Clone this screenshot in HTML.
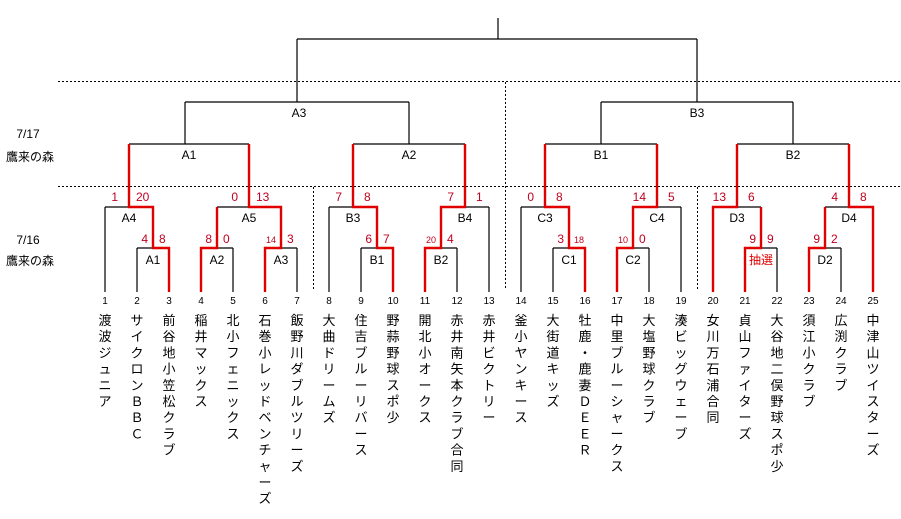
<!DOCTYPE html>
<html><head><meta charset="utf-8"><style>
html,body{margin:0;padding:0;background:#fff;}
svg text{font-family:"Liberation Sans","Noto Sans CJK JP",sans-serif;}
</style></head><body>
<svg width="901" height="514" viewBox="0 0 901 514" xmlns="http://www.w3.org/2000/svg">
<g stroke="#000" stroke-width="1" stroke-dasharray="2,2" fill="none">
<line x1="58" y1="81.5" x2="901" y2="81.5"/>
<line x1="58" y1="186.5" x2="901" y2="186.5"/>
<line x1="505.5" y1="82" x2="505.5" y2="290"/>
<line x1="313.5" y1="187" x2="313.5" y2="290"/>
<line x1="697.5" y1="187" x2="697.5" y2="290"/>
</g>
<g stroke="#000" stroke-width="1.2" fill="none">
<path d="M498 18V39M297 39H697M297 39V102M697 39V102"/>
<path d="M185 102H409M185 102V144M409 102V144M601 102H793M601 102V144M793 102V144"/>
<path d="M129 144H249M353 144H465M545 144H657M737 144H849"/>
<path d="M105 207H129M105 207V292M217 207H249M329 207H353M329 207V292M465 207H489M489 207V292M521 207H545M521 207V292M657 207H681M681 207V292M737 207H761M825 207H849"/>
<path d="M137 248H153M137 248V292M233 248H217M233 248V292M297 248H281M297 248V292M361 248H377M361 248V292M457 248H441M457 248V292M553 248H569M553 248V292M649 248H633M649 248V292M777 248H761M777 248V292M841 248H825M841 248V292"/>
</g>
<g stroke="#e00000" stroke-width="2.4" fill="none">
<path d="M169 292V248H153V207H129V144"/>
<path d="M201 292V248H217V207"/>
<path d="M265 292V248H281V207H249V144"/>
<path d="M393 292V248H377V207H353V144"/>
<path d="M425 292V248H441V207H465V144"/>
<path d="M585 292V248H569V207H545V144"/>
<path d="M617 292V248H633V207H657V144"/>
<path d="M713 292V207H737V144"/>
<path d="M745 292V248H761V207"/>
<path d="M809 292V248H825V207"/>
<path d="M873 292V207H849V144"/>
</g>
<g font-size="12" fill="#000" text-anchor="middle">
<text x="299" y="117">A3</text><text x="697" y="117">B3</text>
<text x="189" y="159">A1</text><text x="409" y="159">A2</text><text x="601" y="159">B1</text><text x="793" y="159">B2</text>
<text x="129" y="222">A4</text><text x="249" y="222">A5</text><text x="353" y="222">B3</text><text x="465" y="222">B4</text>
<text x="545" y="222">C3</text><text x="657" y="222">C4</text><text x="737" y="222">D3</text><text x="849" y="222">D4</text>
<text x="153" y="264">A1</text><text x="217" y="264">A2</text><text x="281" y="264">A3</text><text x="377" y="264">B1</text>
<text x="441" y="264">B2</text><text x="569" y="264">C1</text><text x="633" y="264">C2</text><text x="825" y="264">D2</text>
<text x="761" y="264" fill="#e00000">抽選</text>
<text x="28" y="138">7/17</text><text x="30" y="161">鷹来の森</text>
<text x="28" y="244">7/16</text><text x="30" y="265">鷹来の森</text>
</g>
<g font-size="12" fill="#c00020">
<g text-anchor="end">
<text x="118" y="201">1</text><text x="238" y="201">0</text><text x="342" y="201">7</text><text x="454" y="201">7</text>
<text x="534" y="201">0</text><text x="646" y="201">14</text><text x="726" y="201">13</text><text x="838" y="201">4</text>
<text x="148" y="243">4</text><text x="212" y="243">8</text><text x="372" y="243">6</text><text x="564" y="243">3</text><text x="756" y="243">9</text><text x="820" y="243">9</text>
<text x="276" y="243" font-size="9">14</text><text x="436" y="243" font-size="9">20</text><text x="628" y="243" font-size="9">10</text>
</g>
<g text-anchor="start">
<text x="136" y="201">20</text><text x="256" y="201">13</text><text x="364" y="201">8</text><text x="476" y="201">1</text>
<text x="556" y="201">8</text><text x="668" y="201">5</text><text x="748" y="201">6</text><text x="860" y="201">8</text>
<text x="159" y="243">8</text><text x="223" y="243">0</text><text x="287" y="243">3</text><text x="383" y="243">7</text>
<text x="447" y="243">4</text><text x="574" y="243" font-size="9">18</text><text x="639" y="243">0</text><text x="767" y="243">9</text><text x="831" y="243">2</text>
</g>
</g>
<g font-size="10" fill="#000" text-anchor="middle" id="nums"></g>
<g font-size="13" fill="#000" text-anchor="middle" id="names"></g>
</svg>
<script>
var names=["渡波ジュニア","サイクロンＢＢＣ","前谷地小笠松クラブ","稲井マックス","北小フェニックス","石巻小レッドベンチャーズ","飯野川ダブルツリーズ","大曲ドリームズ","住吉ブルーリバース","野蒜野球スポ少","開北小オークス","赤井南矢本クラブ合同","赤井ビクトリー","釜小ヤンキース","大街道キッズ","牡鹿・鹿妻ＤＥＥＲ","中里ブルーシャークス","大塩野球クラブ","湊ビッグウェーブ","女川万石浦合同","貞山ファイターズ","大谷地二俣野球スポ少","須江小クラブ","広渕クラブ","中津山ツイスターズ"];
var ns="http://www.w3.org/2000/svg",g1=document.getElementById("nums"),g2=document.getElementById("names");
names.forEach(function(n,i){var x=105+32*i;var t=document.createElementNS(ns,"text");t.setAttribute("x",x);t.setAttribute("y",304);t.textContent=i+1;g1.appendChild(t);
Array.from(n).forEach(function(c,j){var s=document.createElementNS(ns,"text");s.setAttribute("x",x);s.setAttribute("y",325+16.2*j);s.textContent=c;g2.appendChild(s);});});
</script>
</body></html>
